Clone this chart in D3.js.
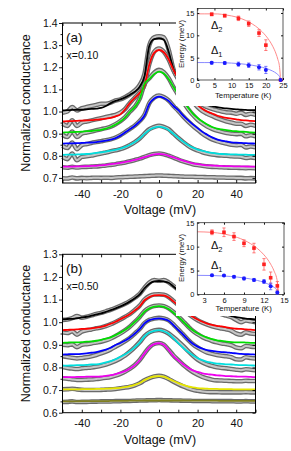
<!DOCTYPE html>
<html><head><meta charset="utf-8">
<script src="https://cdn.jsdelivr.net/npm/d3@7"></script>
<style>
body{margin:0;background:#fff}
svg{display:block}
text{font-family:"Liberation Sans",Arial,sans-serif;fill:#111}
</style></head>
<body><svg id="c" width="291" height="451"></svg>
<script>
// ---------- shared voltage grid (mV) ----------
const voltage = [-50,-47.5,-45,-42.5,-40,-37.5,-35,-32.5,-30,-27.5,-25,-22.5,-20,-17.5,-15,-12.5,-10,-7.5,-5,-2.5,0,2.5,5,7.5,10,12.5,15,17.5,20,22.5,25,27.5,30,32.5,35,37.5,40,42.5,45,47.5,50];
const xTickLabels = [-40,-20,0,20,40];
const xTicks = [-50,-40,-30,-20,-10,0,10,20,30,40,50];

// ---------- panel (a) x=0.10 ----------
const aYTicks = [0.7,0.8,0.9,1.0,1.1,1.2,1.3,1.4];
const aColors = ["#000000","#ff0000","#00dd00","#0000ff","#00dede","#ee00ee"];
const aFitBlack = [1.005,1.006,1.007,1.008,1.008,1.010,1.012,1.013,1.016,1.025,1.038,1.048,1.055,1.064,1.076,1.090,1.112,1.161,1.298,1.327,1.330,1.324,1.271,1.190,1.151,1.119,1.086,1.064,1.047,1.038,1.030,1.025,1.020,1.016,1.014,1.012,1.010,1.008,1.007,1.006,1.006];
const aFitRed = [.955,.956,.957,.958,.959,.960,.961,.963,.965,.968,.971,.978,.987,1.010,1.039,1.062,1.084,1.117,1.213,1.265,1.278,1.268,1.236,1.188,1.149,1.117,1.081,1.052,1.029,1.013,1.000,.991,.982,.976,.971,.968,.965,.961,.960,.958,.957];
const aFitGreen = [.905,.906,.907,.908,.909,.911,.912,.915,.917,.923,.930,.941,.955,.974,.999,1.021,1.056,1.125,1.147,1.169,1.180,1.172,1.147,1.111,1.078,1.048,1.018,.990,.971,.955,.941,.930,.923,.919,.916,.913,.911,.909,.908,.906,.905];
const aFitBlue = [.855,.856,.856,.857,.858,.859,.860,.862,.865,.868,.873,.880,.891,.906,.921,.936,.955,.982,1.035,1.059,1.067,1.061,1.048,1.025,1.006,.982,.961,.942,.925,.908,.895,.883,.874,.868,.865,.861,.859,.858,.857,.856,.855];
const aFitCyan = [.804,.805,.805,.806,.807,.808,.810,.813,.816,.819,.823,.827,.832,.840,.850,.862,.878,.899,.917,.927,.932,.927,.917,.899,.881,.864,.849,.837,.828,.822,.817,.813,.810,.808,.807,.806,.806,.805,.805,.804,.804];
const aFitMagenta = [.751,.751,.751,.752,.752,.753,.754,.755,.757,.759,.762,.765,.768,.772,.776,.781,.787,.794,.801,.806,.808,.806,.800,.793,.785,.778,.771,.766,.762,.759,.757,.756,.755,.754,.753,.753,.752,.752,.752,.751,.751];
const aDatBlack = [.995,1.000,1.020,1.005,1.015,1.020,1.025,1.030,1.035,1.035,1.040,1.050,1.055,1.065,1.078,1.095,1.120,1.170,1.300,1.335,1.340,1.335,1.280,1.190,1.150,1.115,1.080,1.058,1.040,1.030,1.020,1.012,1.006,1.000,.996,.995,.990,.995,.985,.990,.985];
const aDatRed = [.945,.935,.960,.935,.950,.955,.960,.965,.970,.975,.980,.985,.995,1.012,1.040,1.063,1.086,1.120,1.215,1.270,1.285,1.270,1.235,1.185,1.145,1.110,1.075,1.045,1.020,1.002,.990,.980,.970,.962,.955,.950,.945,.945,.935,.940,.935];
const aDatGreen = [.895,.885,.910,.885,.900,.905,.910,.915,.920,.925,.932,.943,.957,.975,1.000,1.022,1.058,1.125,1.150,1.175,1.188,1.178,1.150,1.110,1.075,1.043,1.012,.985,.963,.946,.932,.922,.914,.908,.903,.900,.898,.900,.888,.893,.888];
const aDatBlue = [.845,.835,.860,.830,.848,.853,.858,.862,.866,.870,.875,.882,.893,.907,.922,.937,.957,.985,1.038,1.063,1.072,1.065,1.050,1.025,1.003,.978,.956,.936,.918,.900,.886,.874,.866,.860,.855,.850,.848,.850,.838,.842,.838];
const aDatCyan = [.795,.785,.810,.780,.795,.798,.801,.806,.810,.815,.820,.825,.830,.838,.849,.862,.878,.900,.920,.930,.936,.930,.920,.900,.880,.862,.846,.833,.824,.816,.810,.806,.803,.801,.800,.798,.797,.796,.790,.793,.790];
const aDatMagenta = [.748,.746,.750,.747,.749,.750,.751,.752,.754,.756,.759,.762,.766,.770,.775,.781,.787,.795,.803,.808,.810,.807,.800,.792,.783,.775,.768,.762,.758,.755,.752,.750,.749,.748,.747,.746,.746,.745,.744,.745,.744];
const aDatGray = [.698,.697,.702,.698,.700,.699,.700,.701,.700,.701,.700,.702,.703,.704,.705,.706,.707,.708,.709,.710,.711,.710,.709,.708,.707,.706,.705,.705,.704,.704,.703,.703,.702,.702,.701,.701,.700,.700,.698,.699,.698];

// ---------- panel (b) x=0.50 ----------
const bYTicks = [0.6,0.7,0.8,0.9,1.0,1.1,1.2,1.3];
const bColors = ["#000000","#ff0000","#00dd00","#0000ff","#00dede","#ee00ee","#e6e600","#808020"];
const bFitBlack = [1.012,1.014,1.015,1.017,1.021,1.024,1.029,1.034,1.039,1.046,1.053,1.061,1.070,1.080,1.092,1.106,1.123,1.150,1.170,1.180,1.182,1.180,1.174,1.158,1.141,1.123,1.106,1.090,1.078,1.068,1.060,1.051,1.044,1.038,1.032,1.027,1.022,1.019,1.016,1.014,1.012];
const bFitRed = [.965,.966,.967,.968,.970,.971,.973,.976,.979,.985,.993,1.002,1.013,1.024,1.036,1.052,1.070,1.097,1.111,1.118,1.120,1.118,1.109,1.092,1.074,1.056,1.038,1.024,1.012,1.002,.994,.988,.984,.981,.977,.974,.971,.970,.968,.967,.965];
const bFitGreen = [.909,.910,.911,.911,.912,.914,.915,.918,.922,.927,.933,.943,.954,.967,.982,1.001,1.022,1.047,1.061,1.069,1.071,1.068,1.058,1.042,1.024,1.003,.982,.964,.951,.940,.932,.925,.920,.917,.914,.912,.911,.911,.910,.909,.909];
const bFitBlue = [.857,.858,.859,.859,.860,.862,.865,.868,.873,.879,.887,.899,.908,.919,.932,.950,.969,.995,1.009,1.015,1.017,1.014,1.006,.987,.966,.945,.923,.905,.892,.883,.876,.873,.870,.868,.867,.864,.862,.860,.859,.858,.857];
const bFitCyan = [.808,.808,.809,.810,.810,.811,.813,.814,.817,.822,.828,.836,.847,.858,.872,.890,.910,.937,.954,.962,.965,.960,.949,.929,.907,.887,.869,.854,.841,.832,.825,.821,.817,.816,.814,.813,.811,.810,.810,.809,.808];
const bFitMagenta = [.757,.757,.757,.758,.758,.759,.759,.759,.760,.763,.766,.771,.777,.784,.795,.810,.832,.862,.889,.903,.907,.900,.877,.850,.831,.814,.799,.787,.780,.774,.770,.768,.765,.764,.762,.761,.760,.759,.759,.758,.757];
const bFitYellow = [.703,.703,.703,.703,.704,.704,.704,.705,.705,.706,.707,.708,.710,.713,.717,.723,.731,.744,.754,.760,.762,.759,.750,.740,.731,.723,.716,.712,.709,.707,.706,.705,.705,.704,.704,.704,.703,.703,.703,.703,.703];
const bFitOlive = [.650,.650,.650,.650,.651,.651,.651,.651,.651,.651,.652,.652,.652,.652,.653,.653,.653,.654,.654,.654,.654,.654,.654,.654,.654,.654,.653,.653,.653,.653,.653,.653,.653,.652,.652,.652,.652,.652,.652,.652,.652];
const bDatBlack = [1.010,1.012,1.018,1.027,1.020,1.024,1.030,1.036,1.041,1.048,1.055,1.063,1.072,1.082,1.094,1.108,1.125,1.152,1.175,1.186,1.183,1.186,1.176,1.160,1.143,1.126,1.108,1.092,1.079,1.068,1.059,1.050,1.042,1.035,1.029,1.022,1.010,1.000,1.008,1.004,1.000];
const bDatRed = [.955,.952,.960,.945,.958,.964,.968,.973,.977,.983,.991,1.001,1.012,1.024,1.037,1.054,1.073,1.100,1.115,1.122,1.123,1.121,1.111,1.094,1.076,1.057,1.038,1.022,1.009,.998,.989,.982,.976,.972,.968,.962,.950,.945,.955,.950,.948];
const bDatGreen = [.900,.898,.902,.890,.900,.903,.906,.910,.914,.920,.928,.939,.951,.965,.981,1.001,1.023,1.049,1.064,1.072,1.074,1.071,1.061,1.045,1.026,1.004,.982,.962,.947,.934,.925,.917,.911,.906,.903,.898,.888,.885,.895,.892,.890];
const bDatBlue = [.850,.846,.843,.840,.842,.845,.849,.855,.862,.870,.880,.892,.904,.917,.931,.950,.970,.996,1.010,1.016,1.019,1.016,1.008,.990,.968,.946,.923,.903,.888,.876,.866,.860,.855,.852,.849,.845,.836,.835,.845,.842,.840];
const bDatCyan = [.802,.798,.795,.793,.796,.798,.800,.803,.807,.813,.820,.829,.840,.853,.870,.890,.912,.938,.955,.963,.966,.961,.950,.933,.915,.895,.873,.853,.835,.822,.813,.806,.801,.798,.796,.793,.790,.788,.792,.790,.788];
const bDatMagenta = [.752,.750,.747,.745,.745,.746,.747,.749,.751,.754,.758,.764,.772,.782,.795,.811,.833,.862,.889,.904,.908,.901,.878,.853,.832,.812,.795,.780,.768,.758,.751,.746,.743,.742,.741,.740,.739,.739,.741,.740,.740];
const bDatYellow = [.703,.704,.706,.703,.701,.700,.700,.700,.701,.702,.703,.705,.708,.711,.715,.721,.730,.743,.753,.760,.763,.759,.749,.737,.726,.716,.708,.701,.697,.694,.692,.691,.691,.690,.690,.690,.690,.690,.691,.690,.690];
const bDatOlive = [.647,.648,.650,.647,.648,.648,.649,.649,.650,.650,.650,.651,.651,.652,.652,.653,.654,.654,.655,.655,.656,.655,.655,.654,.654,.653,.653,.652,.652,.652,.652,.651,.651,.651,.651,.651,.650,.650,.651,.650,.650];

// ---------- inset (a): gap energies vs temperature ----------
const iaTemp = [4.2,8,12,15,18,20,24.3];
const iaDelta2 = [14.7,14.4,13.8,12.6,10.5,7.8,0];
const iaErr2 = [0.3,0.3,0.5,0.6,0.75,1.2,0];
const iaDelta1 = [3.85,3.8,3.55,3.3,2.85,2.25,0];
const iaErr1 = [0.3,0.3,0.45,0.5,0.6,0.8,0];
const iaFitT = [0,2,4,6,8,10,12,14,16,18,19,20,21,22,23,23.5,24,24.3];
const iaFit2 = [14.8,14.8,14.8,14.78,14.6,14.34,13.95,13.37,12.56,11.45,10.73,9.88,8.85,7.55,5.8,4.6,2.84,0];
const iaFit1 = [3.9,3.9,3.9,3.9,3.85,3.78,3.68,3.52,3.31,3.02,2.83,2.61,2.33,1.99,1.53,1.21,0.75,0];
const iaXTicks = [0,5,10,15,20,25];
const iaYTicks = [0,5,10,15];

// ---------- inset (b) ----------
const ibTemp = [4.2,6,7.5,9,10.5,12,13,14];
const ibDelta2 = [13.0,13.0,12.1,10.7,9.7,6.3,3.5,1.8];
const ibErr2 = [0.5,0.9,0.8,0.7,1.0,1.2,1.2,0.9];
const ibDelta1 = [4.0,3.95,3.7,3.35,3.05,2.7,1.7,0.4];
const ibErr1 = [0.2,0.2,0.25,0.3,0.3,0.4,0.7,0.3];
const ibFitT = [2,4,6,8,9,10,11,12,12.5,13,13.5,14,14.2];
const ibFit2 = [13.1,13.0,12.65,11.92,11.36,10.61,9.62,8.28,7.42,6.34,4.94,2.69,0];
const ibFit1 = [4.0,3.97,3.86,3.64,3.47,3.24,2.94,2.53,2.26,1.94,1.51,0.82,0];
const ibXTicks = [3,6,9,12,15];
const ibYTicks = [0,5,10,15];

const svg = d3.select('#c');

function styleAxis(sel, fs){
  sel.select('.domain').remove();
  sel.selectAll('line').attr('stroke','#000').attr('stroke-width',0.9);
  sel.selectAll('text').attr('font-size',fs).attr('font-family','"Liberation Sans",Arial,sans-serif').attr('fill','#111');
}

function drawMain(o){
  const g = svg.append('g');
  const L = 62.5, R = 255.5;
  const x = d3.scaleLinear().domain([-50,50]).range([L,R]);
  const y = d3.scaleLinear().domain(o.yDomain).range([o.bottom,o.top]);
  const line = d3.line().x((d,i)=>x(voltage[i])).y(d=>y(d)).curve(d3.curveMonotoneX);
  o.data.forEach(arr=>{
    g.append('path').attr('d',line(arr)).attr('fill','none').attr('stroke','#6a6a6a').attr('stroke-width',4.6).attr('stroke-linejoin','round');
    g.append('path').attr('d',line(arr)).attr('fill','none').attr('stroke','#c6c6c6').attr('stroke-width',2);
  });
  o.fits.forEach((arr,i)=>{
    g.append('path').attr('d',line(arr)).attr('fill','none').attr('stroke',o.colors[i]).attr('stroke-width',1.8);
  });
  g.append('rect').attr('x',L).attr('y',o.top).attr('width',R-L).attr('height',o.bottom-o.top)
    .attr('fill','none').attr('stroke','#000').attr('stroke-width',1);
  // y axis (major + minor, outward)
  const yMinor = o.yTicks.slice(0,-1).map(v=>+(v+0.05).toFixed(2));
  const ya = g.append('g').attr('transform',`translate(${L},0)`)
    .call(d3.axisLeft(y).tickValues(o.yTicks).tickSize(3.5).tickPadding(1.5).tickFormat(d3.format('.1f')));
  styleAxis(ya, 10.5);
  const ym = g.append('g').attr('transform',`translate(${L},0)`)
    .call(d3.axisLeft(y).tickValues(yMinor).tickSize(2).tickFormat(''));
  styleAxis(ym, 10);
  // right axis ticks inward
  const yr = g.append('g').attr('transform',`translate(${R},0)`)
    .call(d3.axisRight(y).tickValues(o.yTicks).tickSize(-3).tickFormat(''));
  styleAxis(yr, 10);
  // x axis (inward ticks)
  const xa = g.append('g').attr('transform',`translate(0,${o.bottom})`)
    .call(d3.axisBottom(x).tickValues(xTicks).tickSizeInner(-3).tickSizeOuter(0).tickPadding(7)
      .tickFormat(d=>xTickLabels.includes(d)?String(d):''));
  styleAxis(xa, 11);
  const xt = g.append('g').attr('transform',`translate(0,${o.top})`)
    .call(d3.axisTop(x).tickValues(xTicks).tickSizeInner(-3).tickSizeOuter(0).tickFormat(''));
  styleAxis(xt, 10);
  // labels
  g.append('text').attr('transform',`translate(25.5,${(o.top+o.bottom)/2}) rotate(-90)`)
    .attr('text-anchor','middle').attr('dy','0.35em').attr('font-size',12.5).text('Normalized conductance');
  g.append('text').attr('x',160).attr('y',o.xLabelY).attr('text-anchor','middle').attr('font-size',12.5).text('Voltage (mV)');
  g.append('text').attr('x',66).attr('y',o.top+18.5).attr('font-size',13.5).text(o.tag);
  g.append('text').attr('x',66.5).attr('y',o.top+35.5).attr('font-size',10.5).text(o.conc);
}

function drawInset(o){
  const g = svg.append('g');
  g.append('rect').attr('x',o.box[0]).attr('y',o.box[1]).attr('width',o.box[2]).attr('height',o.box[3]).attr('fill','#fff');
  const x = d3.scaleLinear().domain(o.xDomain).range([197.3,o.right]);
  const y = d3.scaleLinear().domain(o.yDomain).range([o.bottom,o.top]);
  const line = d3.line().x((d,i)=>x(o.fitT[i])).y(d=>y(d)).curve(d3.curveMonotoneX);
  g.append('path').attr('d',line(o.fit2)).attr('fill','none').attr('stroke','#ff8a8a').attr('stroke-width',1);
  g.append('path').attr('d',line(o.fit1)).attr('fill','none').attr('stroke','#8a8aff').attr('stroke-width',1);
  g.append('rect').attr('x',x.range()[0]).attr('y',o.top).attr('width',x.range()[1]-x.range()[0]).attr('height',o.bottom-o.top)
    .attr('fill','none').attr('stroke','#333').attr('stroke-width',0.8);
  const xa = g.append('g').attr('transform',`translate(0,${o.bottom})`)
    .call(d3.axisBottom(x).tickValues(o.xTicks).tickSizeInner(-2).tickSizeOuter(0).tickPadding(3).tickFormat(d3.format('d')));
  styleAxis(xa, 7.5);
  const xt = g.append('g').attr('transform',`translate(0,${o.top})`)
    .call(d3.axisTop(x).tickValues(o.xTicks).tickSizeInner(-2).tickSizeOuter(0).tickFormat(''));
  styleAxis(xt, 7);
  const ya = g.append('g').attr('transform',`translate(197.3,0)`)
    .call(d3.axisLeft(y).tickValues(o.yTicks).tickSizeInner(-2).tickSizeOuter(0).tickPadding(3).tickFormat(d3.format('d')));
  styleAxis(ya, 7.5);
  const yr = g.append('g').attr('transform',`translate(${o.right},0)`)
    .call(d3.axisRight(y).tickValues(o.yTicks).tickSizeInner(-2).tickSizeOuter(0).tickFormat(''));
  styleAxis(yr, 7);
  // error bars + markers
  const series = [
    {v:o.d2, e:o.e2, c:'#ff2020', ec:'#ff5a5a', sq:true},
    {v:o.d1, e:o.e1, c:'#1a1aff', ec:'#5a5aff', sq:false}
  ];
  series.forEach(s=>{
    s.v.forEach((v,i)=>{
      const cx = x(o.T[i]);
      if(s.e[i]>0){
        const y1 = y(v+s.e[i]), y2 = y(v-s.e[i]);
        g.append('line').attr('x1',cx).attr('x2',cx).attr('y1',y1).attr('y2',y2).attr('stroke',s.ec).attr('stroke-width',0.8);
        [y1,y2].forEach(yy=>g.append('line').attr('x1',cx-1.6).attr('x2',cx+1.6).attr('y1',yy).attr('y2',yy).attr('stroke',s.ec).attr('stroke-width',0.8));
      }
      if(s.sq){
        g.append('rect').attr('x',cx-1.8).attr('y',y(v)-1.8).attr('width',3.6).attr('height',3.6).attr('fill',s.c);
      } else {
        g.append('circle').attr('cx',cx).attr('cy',y(v)).attr('r',2).attr('fill',s.c);
      }
    });
  });
  g.append('text').attr('transform',`translate(183.5,${o.eLabelY}) rotate(-90)`).attr('text-anchor','middle')
    .attr('font-size',7.8).text('Energy (meV)');
  g.append('text').attr('x',(x.range()[0]+o.right)/2+3).attr('y',o.tLabelY).attr('text-anchor','middle')
    .attr('font-size',7.8).text('Temperature (K)');
  [[o.d2Pos,'2'],[o.d1Pos,'1']].forEach(([p,s])=>{
    const t = g.append('text').attr('x',p[0]).attr('y',p[1]).attr('font-family','"Liberation Serif","Times New Roman",serif').attr('font-size',11);
    t.append('tspan').text('Δ');
    t.append('tspan').attr('font-size',7.5).attr('dy',3).text(s);
  });
}

drawMain({yDomain:[0.677,1.4], top:23, bottom:183, yTicks:aYTicks, colors:aColors,
  data:[aDatBlack,aDatRed,aDatGreen,aDatBlue,aDatCyan,aDatMagenta,aDatGray],
  fits:[aFitBlack,aFitRed,aFitGreen,aFitBlue,aFitCyan,aFitMagenta],
  xLabelY:214, tag:'(a)', conc:'x=0.10'});
drawMain({yDomain:[0.6,1.3], top:254.3, bottom:412.7, yTicks:bYTicks, colors:bColors,
  data:[bDatBlack,bDatRed,bDatGreen,bDatBlue,bDatCyan,bDatMagenta,bDatYellow,bDatOlive],
  fits:[bFitBlack,bFitRed,bFitGreen,bFitBlue,bFitCyan,bFitMagenta,bFitYellow,bFitOlive],
  xLabelY:443.5, tag:'(b)', conc:'x=0.50'});

drawInset({box:[176,0,115,106], xDomain:[0,25], yDomain:[0,16], right:283, top:8.5, bottom:80,
  xTicks:iaXTicks, yTicks:iaYTicks, T:iaTemp, d2:iaDelta2, e2:iaErr2, d1:iaDelta1, e1:iaErr1,
  fitT:iaFitT, fit2:iaFit2, fit1:iaFit1, eLabelY:44, tLabelY:98, d2Pos:[211,29], d1Pos:[211,54]});
drawInset({box:[176,218,115,98], xDomain:[2,15], yDomain:[0,15], right:284, top:222.7, bottom:294.5,
  xTicks:ibXTicks, yTicks:ibYTicks, T:ibTemp, d2:ibDelta2, e2:ibErr2, d1:ibDelta1, e1:ibErr1,
  fitT:ibFitT, fit2:ibFit2, fit1:ibFit1, eLabelY:258, tLabelY:311, d2Pos:[211,249], d1Pos:[211,269]});
</script>
</body></html>
